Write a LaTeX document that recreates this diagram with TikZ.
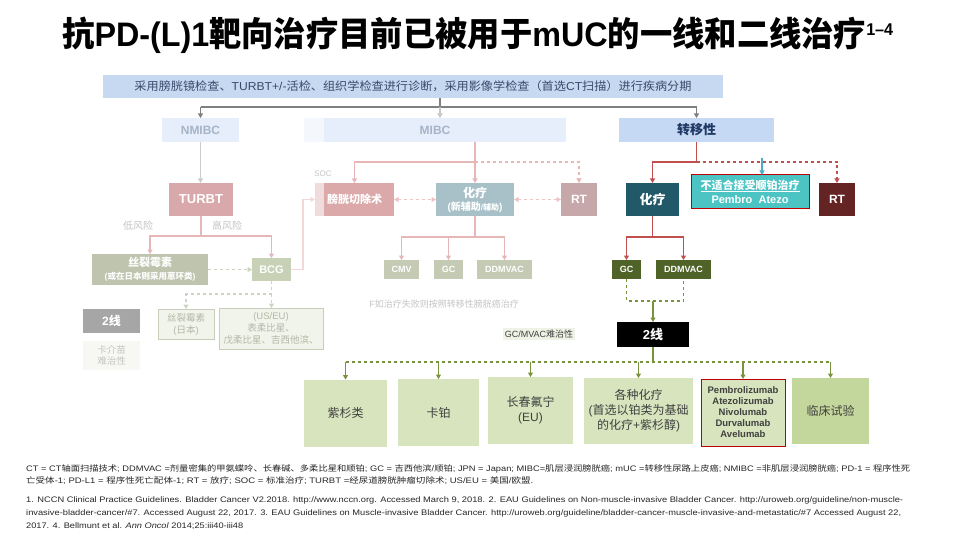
\documentclass[tikz,border=0pt]{standalone}
\usepackage{fontspec}
\usepackage{graphicx}
\setmainfont{Liberation Sans}
\newfontfamily\cjk{Noto Sans CJK SC}
\usetikzlibrary{arrows.meta}
% automatic switching to the CJK font for CJK characters
\XeTeXinterchartokenstate=1
\newcount\cjkc
\cjkc="3000 \loop \XeTeXcharclass\cjkc=7 \advance\cjkc 1 \ifnum\cjkc<"3040 \repeat
\cjkc="4E00 \loop \XeTeXcharclass\cjkc=7 \advance\cjkc 1 \ifnum\cjkc<"A000 \repeat
\cjkc="FF00 \loop \XeTeXcharclass\cjkc=7 \advance\cjkc 1 \ifnum\cjkc<"FFF0 \repeat
\XeTeXinterchartoks 0 7 = {\cjk}
\XeTeXinterchartoks 1 7 = {\cjk}
\XeTeXinterchartoks 2 7 = {\cjk}
\XeTeXinterchartoks 3 7 = {\cjk}
\XeTeXinterchartoks 4095 7 = {\cjk}
\XeTeXinterchartoks 7 0 = {\rmfamily}
\XeTeXinterchartoks 7 1 = {\rmfamily}
\XeTeXinterchartoks 7 2 = {\rmfamily}
\XeTeXinterchartoks 7 3 = {\rmfamily}
\XeTeXinterchartoks 4095 0 = {\rmfamily}

\definecolor{barF}{HTML}{C6D9F1}
\definecolor{barT}{HTML}{3A4A6B}
\definecolor{lbF}{HTML}{E5EEFA}
\definecolor{lbT}{HTML}{A7B4C7}
\definecolor{metF}{HTML}{C6D9F4}
\definecolor{metT}{HTML}{1F3864}
\definecolor{grayL}{HTML}{7F7F7F}
\definecolor{pinkL}{HTML}{E7B6B7}
\definecolor{pinkD}{HTML}{EDC3C4}
\definecolor{pinkP}{HTML}{F3D8D9}
\definecolor{turbtF}{HTML}{D9A8AA}
\definecolor{mitoF}{HTML}{BEC4AE}
\definecolor{bcgF}{HTML}{C8D0B6}
\definecolor{gD}{HTML}{CDD3BF}
\definecolor{paleF}{HTML}{F1F4EB}
\definecolor{paleD}{HTML}{C9CEBA}
\definecolor{paleT}{HTML}{B3B8A6}
\definecolor{grayB}{HTML}{A6A6A6}
\definecolor{cystF}{HTML}{DBA9AA}
\definecolor{chemoMF}{HTML}{A8C1C8}
\definecolor{rtMF}{HTML}{C7A8AA}
\definecolor{smallF}{HTML}{C5CAB4}
\definecolor{redL}{HTML}{C0504D}
\definecolor{tealA}{HTML}{4BACC6}
\definecolor{chemoRF}{HTML}{215968}
\definecolor{unfitF}{HTML}{4CC4C4}
\definecolor{redB}{HTML}{C00000}
\definecolor{rtRF}{HTML}{632423}
\definecolor{oliveF}{HTML}{4F6228}
\definecolor{oliveL}{HTML}{77933C}
\definecolor{greenF}{HTML}{D7E4BD}
\definecolor{greenG}{HTML}{C3D69B}
\definecolor{textD}{HTML}{404040}
\definecolor{noteT}{HTML}{262626}
\definecolor{faintT}{HTML}{C4C4C4}
\definecolor{labF}{HTML}{EEF3E6}

\tikzset{
  box/.style={inner sep=0pt, outer sep=0pt, align=center, text=white},
  fs/.style={font=\fontsize{#1}{#1}\selectfont},
  fsb/.style={font=\bfseries\fontsize{#1}{#1}\selectfont},
  ar/.style={-{Triangle[width=5pt,length=4.5pt]}},
  dar/.style={{Triangle[width=5pt,length=4.5pt]}-{Triangle[width=5pt,length=4.5pt]}},
  gl/.style={draw=grayL, line width=1.6pt},
  pk/.style={draw=pinkL, line width=1.6pt},
  rd/.style={draw=redL, line width=1.6pt},
  ol/.style={draw=oliveL, line width=1.8pt},
  gdsh/.style={draw=gD, line width=1.6pt, dashed},
  bottom/.style={box, fill=greenF, text=textD, minimum height=67pt, font=\fontsize{12}{15}\selectfont},
}

\begin{document}
\begin{tikzpicture}[x=1pt,y=-1pt]
\useasboundingbox[fill=white] (0,0) rectangle (960,540);

% title
\node[inner sep=0pt, anchor=base west] (title) at (62,47)
  {\resizebox{831pt}{\height}{\bfseries\fontsize{34}{34}\selectfont 抗PD-(L)1靶向治疗目前已被用于mUC的一线和二线治疗\raisebox{11pt}{\fontsize{17}{17}\selectfont 1–4}}};

% top bar
\node[box, fill=barF, text=barT, minimum width=620pt, minimum height=23pt] (bar) at (413,86.5)
  {\resizebox{557pt}{\height}{\fontsize{11.5}{12}\selectfont 采用膀胱镜检查、TURBT+/-活检、组织学检查进行诊断，采用影像学检查（首选CT扫描）进行疾病分期}};

% level 1
\node[box, fill=lbF, text=lbT, fsb=12, minimum width=77pt, minimum height=24pt] (nmibc) at (200.5,130) {NMIBC};
\node[box, fill=lbF, text=lbT, fsb=12, minimum width=262pt, minimum height=24pt] (mibc) at (435,130) {MIBC};
\fill[white, opacity=0.6] (mibc.north west) rectangle ([xshift=20pt]mibc.south west);
\node[box, fill=metF, text=metT, fsb=13, minimum width=155pt, minimum height=24pt] (met) at (696.5,130) {转移性};

% top connectors
\coordinate (tj) at (440,107);
\draw[gl] (bar.south -| tj) -- (tj);
\draw[gl] (nmibc.north |- tj) -- (met.north |- tj);
\draw[gl, ar] (nmibc.north |- tj) -- (nmibc.north);
\draw[gl, ar] (met.north |- tj) -- (met.north);
\draw[draw=gray!45, line width=1.2pt, ar] (tj) -- (tj |- mibc.north);

% NMIBC column
\node[box, fill=turbtF, fsb=13, minimum width=64pt, minimum height=33pt] (turbt) at (201,199.5) {TURBT};
\draw[draw=gray!40, line width=1.6pt, ar] (nmibc.south) -- (nmibc.south |- turbt.north);
\node[text=faintT, fs=10, inner sep=0pt] (low) at (138,226) {低风险};
\node[text=faintT, fs=10, inner sep=0pt] (high) at (227,226) {高风险};

\node[box, fill=mitoF, minimum width=116pt, minimum height=31pt, font=\bfseries\fontsize{11}{13}\selectfont] (mito) at (150,269.5)
  {丝裂霉素\\{\fontsize{8.5}{10}\selectfont (或在日本则采用蒽环类)}};
\node[box, fill=bcgF, fsb=11, minimum width=39pt, minimum height=23pt] (bcg) at (271.5,269.5) {BCG};
\draw[pk, ar] (turbt.south) -- ++(0,20) -| (mito.north);
\draw[pk, ar] (turbt.south) -- ++(0,20) -| (bcg.north);
\draw[gdsh, ar] (mito.east) -- (bcg.west);

\node[box, fill=paleF, draw=paleD, line width=0.8pt, text=paleT, minimum width=56pt, minimum height=30pt, font=\fontsize{9.5}{12}\selectfont] (mitoJ) at (186,324) {丝裂霉素\\(日本)};
\node[box, fill=paleF, draw=paleD, line width=0.8pt, text=paleT, minimum width=104pt, minimum height=41pt, font=\fontsize{9.5}{12}\selectfont] (useu) at (271,328.5) {(US/EU)\\表柔比星、\\戊柔比星、吉西他滨、};
\draw[gdsh] (bcg.south) -- ++(0,13) coordinate (bd);
\draw[gdsh, ar] (bd) -| (mitoJ.north);
\draw[gdsh, ar] (bd) -- (bd |- useu.north);

\node[box, fill=grayB, fsb=12, minimum width=57pt, minimum height=24pt] (l2g) at (111.5,321) {2线};
\node[box, fill=paleF!60, text=faintT, minimum width=57pt, minimum height=29pt, font=\fontsize{9.5}{11.5}\selectfont] (bcgref) at (111.5,355.5) {卡介苗\\难治性};

% MIBC column
\node[box, fill=cystF, fsb=11, minimum width=79pt, minimum height=33pt] (cyst) at (354.5,199.5) {膀胱切除术};
\fill[white, opacity=0.6] (cyst.north west) rectangle ([xshift=9pt]cyst.south west);
\node[box, fill=chemoMF, minimum width=78pt, minimum height=33pt, font=\bfseries\fontsize{12}{13}\selectfont] (chemoM) at (475,199.5)
  {化疗\\{\fontsize{10}{11}\selectfont (新辅助{\fontsize{8}{9}\selectfont/辅助})}};
\node[box, fill=rtMF, fsb=12, minimum width=36pt, minimum height=33pt] (rtM) at (579,199.5) {RT};
\node[text=faintT, fs=8, inner sep=0pt] (soc) at (323,174) {SOC};

\draw[pinkP, line width=1.3pt, ar] (bcg.east) -- ++(12,0) |- (cyst.west);

\coordinate (mj) at (475,162);
\draw[pk] (mibc.south -| mj) -- (mj);
\draw[pk, ar] (mj) -| (cyst.north);
\draw[pk, ar] (mj) -- (chemoM.north);
\draw[pk, dashed, ar] (mj) -| (rtM.north);
\draw[draw=pinkD, line width=1.6pt, dashed, dar] (cyst.east) -- (chemoM.west);
\draw[draw=pinkD, line width=1.6pt, dashed, dar] (chemoM.east) -- (rtM.west);

\node[box, fill=smallF, fsb=9, minimum width=35pt, minimum height=19pt] (cmv) at (401.5,269.5) {CMV};
\node[box, fill=smallF, fsb=9, minimum width=29pt, minimum height=19pt] (gcM) at (448.5,269.5) {GC};
\node[box, fill=smallF, fsb=9, minimum width=55pt, minimum height=19pt] (ddM) at (504.5,269.5) {DDMVAC};
\draw[pk] (chemoM.south) -- ++(0,21) coordinate (cj);
\draw[pk, ar] (cj) -| (cmv.north);
\draw[pk, ar] (cj) -| (gcM.north);
\draw[pk, ar] (cj) -| (ddM.north);
\node[text=faintT, fs=9, inner sep=0pt] (fail) at (444,304) {F如治疗失败则按照转移性膀胱癌治疗};

% metastatic column
\node[box, fill=chemoRF, fsb=13, minimum width=53pt, minimum height=33pt] (chemoR) at (652.5,199.5) {化疗};
\node[box, fill=unfitF, draw=redB, line width=1pt, minimum width=118pt, minimum height=33pt, font=\bfseries\fontsize{11}{14}\selectfont] (unfit) at (750,191.5)
  {\underline{不适合接受顺铂治疗}\\Pembro\ \ Atezo};
\node[box, fill=rtRF, fsb=12, minimum width=36pt, minimum height=33pt] (rtR) at (837,199.5) {RT};
\coordinate (rj0) at (696.5,162);
\draw[rd] (met.south) -- (rj0);
\draw[rd, ar] (rj0) -| (chemoR.north);
\draw[rd, dashed, ar] (rj0) -| (rtR.north);
\coordinate (ta) at (762,158);
\draw[draw=tealA, line width=1.3pt, ar] (ta) -- (ta |- unfit.north);

\node[box, fill=oliveF, fsb=9, minimum width=29pt, minimum height=19pt] (gcR) at (626.5,269.5) {GC};
\node[box, fill=oliveF, fsb=9, minimum width=55pt, minimum height=19pt] (ddR) at (683.5,269.5) {DDMVAC};
\draw[rd] (chemoR.south) -- ++(0,21) coordinate (rj);
\draw[rd, ar] (rj) -| (gcR.north);
\draw[rd, ar] (rj) -| (ddR.north);

\node[box, fill=black, fsb=13, minimum width=72pt, minimum height=25pt] (l2) at (653,334.5) {2线};
\draw[ol, dashed] (gcR.south) -- ++(0,22) -| (ddR.south);
\coordinate (uj) at (653,301);
\draw[ol, ar] (uj) -- (l2.north);

\node[box, fill=labF, text=textD, fs=9, inner sep=1.5pt] (refr) at (539,334) {GC/MVAC难治性};

% bottom boxes
\node[bottom, minimum width=83pt] (b1) at (345.5,413) {紫杉类};
\node[bottom, minimum width=81pt] (b2) at (438.5,412.5) {卡铂};
\node[bottom, minimum width=85pt] (b3) at (530.5,410.5) {长春氟宁\\(EU)};
\node[bottom, minimum width=109pt, minimum height=66pt] (b4) at (638.5,411) {各种化疗\\(首选以铂类为基础\\的化疗+紫杉醇)};
\node[bottom, draw=redB, line width=1pt, minimum width=84pt, font=\bfseries\fontsize{9.5}{11}\selectfont] (b5) at (743,412.5)
  {Pembrolizumab\\Atezolizumab\\Nivolumab\\Durvalumab\\Avelumab};
\node[bottom, fill=greenG, minimum width=77pt, minimum height=66pt] (b6) at (830.5,411) {临床试验};

\draw[ol] (l2.south) -- ++(0,15) coordinate (sj);
\draw[ol, dashed] (sj -| b1) -- (sj -| b6);
\foreach \b in {b1,b2,b3,b4,b5,b6} {
  \draw[ol, ar] (sj -| \b) -- (\b.north);
}

% footnotes
\node[anchor=west, inner sep=0pt, text=noteT] (n1) at (26,469)
  {\resizebox{884pt}{\height}{\fontsize{8}{9}\selectfont CT = CT轴面扫描技术; DDMVAC =剂量密集的甲氨蝶呤、长春碱、多柔比星和顺铂; GC = 吉西他滨/顺铂; JPN = Japan; MIBC=肌层浸润膀胱癌; mUC =转移性尿路上皮癌; NMIBC =非肌层浸润膀胱癌; PD-1 = 程序性死}};
\node[anchor=west, inner sep=0pt, text=noteT] (n2) at (26,481)
  {\resizebox{507pt}{\height}{\fontsize{8}{9}\selectfont 亡受体-1; PD-L1 = 程序性死亡配体-1; RT = 放疗; SOC = 标准治疗; TURBT =经尿道膀胱肿瘤切除术; US/EU = 美国/欧盟.}};
\node[anchor=west, inner sep=0pt, text=noteT] (n3) at (26,500)
  {\resizebox{877pt}{\height}{\fontsize{8}{9}\selectfont 1. NCCN Clinical Practice Guidelines. Bladder Cancer V2.2018. http://www.nccn.org. Accessed March 9, 2018. 2. EAU Guidelines on Non-muscle-invasive Bladder Cancer. http://uroweb.org/guideline/non-muscle-}};
\node[anchor=west, inner sep=0pt, text=noteT] (n4) at (26,513)
  {\resizebox{875pt}{\height}{\fontsize{8}{9}\selectfont invasive-bladder-cancer/\#7. Accessed August 22, 2017. 3. EAU Guidelines on Muscle-invasive Bladder Cancer. http://uroweb.org/guideline/bladder-cancer-muscle-invasive-and-metastatic/\#7 Accessed August 22,}};
\node[anchor=west, inner sep=0pt, text=noteT] (n5) at (26,526)
  {\resizebox{217pt}{\height}{\fontsize{8}{9}\selectfont 2017. 4. Bellmunt et al. \textit{Ann Oncol} 2014;25:iii40-iii48}};
\end{tikzpicture}
\end{document}
